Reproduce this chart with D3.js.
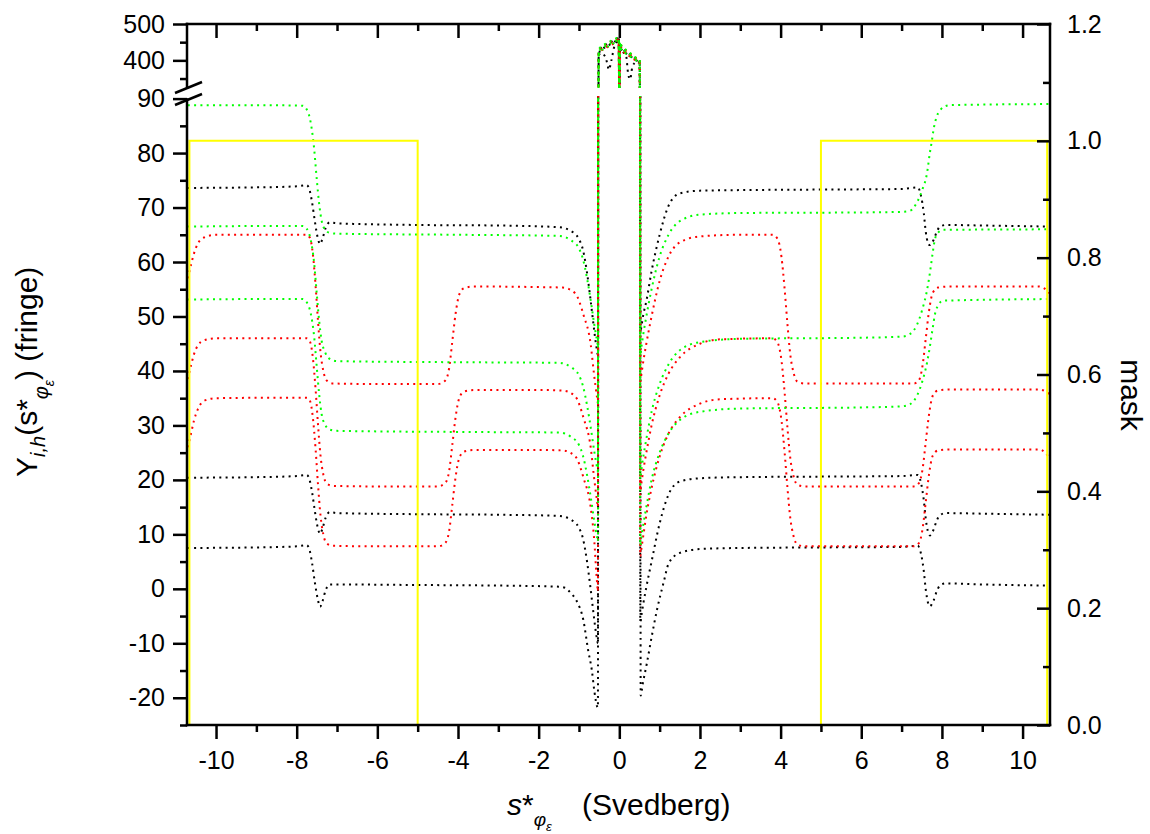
<!DOCTYPE html>
<html><head><meta charset="utf-8">
<script src="https://cdn.jsdelivr.net/npm/d3@7"></script>
<style>
body{margin:0;background:#fff}
svg{display:block}
text{font-family:"Liberation Sans",Arial,sans-serif;fill:#000}
</style>
</head><body>
<svg id="chart" width="1150" height="834"></svg>
<script>
// ---------------- data ----------------
const xTicks = [-10,-8,-6,-4,-2,0,2,4,6,8,10];
const xMinor = [-11,-9,-7,-5,-3,-1,1,3,5,7,9,11];
const yLowTicks = [-20,-10,0,10,20,30,40,50,60,70,80,90];
const yLowMinor = [-25,-15,-5,5,15,25,35,45,55,65,75,85];
const yHighTicks = [400,500];
const yHighMinor = [350,450];
const maskTicks = [0,0.2,0.4,0.6,0.8,1.0,1.2];
const maskMinor = [0.1,0.3,0.5,0.7,0.9,1.1];

const maskX = [-10.66,-10.66,-5,-5,5,5,10.61,10.61];
const maskY = [0,1,1,0,0,1,1,0];

const black1 = [[-10.7,73.6],[-9,73.7],[-8,73.9],[-7.75,74.1],[-7.68,73.2],[-7.62,71],[-7.55,67.5],[-7.48,64.5],[-7.42,63.3],[-7.36,64.3],[-7.28,66.3],[-7.18,67.3],[-7,67.1],[-5,66.8],[-3,66.7],[-1.5,66.4],[-1.2,65.7],[-1,64.2],[-0.9,62.2],[-0.8,58],[-0.72,53.5],[-0.64,48.5],[-0.57,44.5],[-0.53,43],
 [-0.51,424],[-0.47,432],[-0.4,439],[-0.3,445],[-0.2,451],[-0.12,456],[-0.05,461],[-0.015,466],[0,250],[0.015,450],[0.05,437],[0.12,428],[0.22,420],[0.32,412],[0.42,404],[0.505,398],
 [0.52,47],[0.55,48.3],[0.6,50.5],[0.67,52.8],[0.8,58.3],[1,65],[1.22,70.3],[1.5,72.6],[2,73.1],[3,73.2],[5,73.3],[7,73.4],[7.4,73.7],[7.48,72.2],[7.55,69],[7.6,65.5],[7.65,63.6],[7.7,63.1],[7.79,64],[7.87,65.5],[7.95,66.5],[8.1,66.8],[9,66.7],[10.7,66.5]];
const black2 = [[-10.7,20.4],[-9,20.5],[-8,20.7],[-7.75,20.9],[-7.68,20],[-7.62,17.8],[-7.55,14.3],[-7.48,11.3],[-7.42,10.1],[-7.36,11.1],[-7.28,13.1],[-7.18,14.1],[-7,13.9],[-5,13.7],[-3,13.6],[-1.5,13.4],[-1.2,12.7],[-1,11.2],[-0.9,9.2],[-0.8,5],[-0.72,0.5],[-0.64,-4.5],[-0.57,-8.5],[-0.53,-10],
 [-0.51,414],[-0.45,420],[-0.36,412],[-0.3,392],[-0.26,374],[-0.2,398],[-0.12,440],[-0.05,452],[-0.015,458],[0,250],[0.015,442],[0.08,425],[0.17,412],[0.22,362],[0.27,348],[0.32,380],[0.42,396],[0.505,392],
 [0.52,-6],[0.55,-4.8],[0.6,-2.5],[0.67,0.3],[0.8,5],[1,12],[1.22,17.3],[1.5,19.7],[2,20.3],[3,20.5],[5,20.6],[7,20.7],[7.4,20.9],[7.48,19.5],[7.55,16.3],[7.6,12.8],[7.65,10.6],[7.7,9.8],[7.79,10.8],[7.87,12.5],[7.95,13.5],[8.1,13.9],[9,13.8],[10.7,13.6]];
const black3 = [[-10.7,7.5],[-9,7.6],[-8,7.8],[-7.75,8],[-7.68,7.1],[-7.62,4.8],[-7.55,1.2],[-7.48,-1.8],[-7.42,-3.3],[-7.36,-2.3],[-7.28,-0.2],[-7.18,0.8],[-7,0.8],[-5,0.7],[-3,0.6],[-1.5,0.4],[-1.35,0.2],[-1.2,-0.8],[-1.06,-2.2],[-0.89,-5.8],[-0.77,-11.4],[-0.68,-15],[-0.62,-18.7],[-0.55,-21.6],[-0.53,-21.8],
 [-0.51,418],[-0.47,426],[-0.4,433],[-0.3,439],[-0.2,446],[-0.12,451],[-0.05,457],[-0.015,461],[0,250],[0.015,444],[0.05,431],[0.12,423],[0.22,416],[0.32,408],[0.42,400],[0.505,395],
 [0.53,-19.6],[0.58,-17.5],[0.68,-13.8],[0.8,-8.9],[0.93,-4],[1.11,1.5],[1.22,4.6],[1.5,6.6],[2,7.3],[3,7.5],[5,7.6],[7,7.7],[7.4,7.9],[7.48,6.5],[7.55,3.3],[7.6,-0.2],[7.65,-2.4],[7.7,-3.2],[7.79,-2.2],[7.87,-0.5],[7.95,0.6],[8.1,1],[9,0.8],[10.7,0.6]];

const red1 = [[-10.7,57],[-10.62,59.5],[-10.55,61.5],[-10.45,63.4],[-10.3,64.5],[-10,65],[-8,65],[-7.75,65],[-7.67,64.4],[-7.6,61.5],[-7.53,55.5],[-7.47,49],[-7.41,43.5],[-7.34,40],[-7.25,38.2],[-7.1,37.7],[-6,37.6],[-4.5,37.6],[-4.32,38.2],[-4.22,40.5],[-4.14,45.5],[-4.06,50.5],[-3.97,54],[-3.85,55.2],[-3.6,55.5],[-2,55.4],[-1.4,55.3],[-1.1,54.3],[-0.88,50.1],[-0.71,44.9],[-0.63,39.6],[-0.55,35],[-0.53,34],
 [-0.51,427],[-0.47,434],[-0.4,440],[-0.3,446],[-0.2,452],[-0.12,457],[-0.05,459],[-0.015,456],[0,250],[0.015,446],[0.05,440],[0.12,432],[0.22,423],[0.32,415],[0.42,406],[0.505,400],
 [0.52,38],[0.55,39.5],[0.6,42],[0.67,45],[0.8,50],[1,56.5],[1.22,61],[1.5,63.6],[2,64.7],[3,65],[3.8,65],[3.92,64.3],[4.02,61],[4.1,55],[4.17,48.5],[4.24,43],[4.32,39.7],[4.42,38],[4.6,37.7],[7.3,37.7],[7.43,38.3],[7.52,41],[7.6,46],[7.68,51],[7.77,54.3],[7.9,55.3],[8.2,55.5],[10.4,55.5],[10.55,55.1],[10.7,54]];
const red2 = [[-10.7,38.5],[-10.62,41],[-10.55,43],[-10.45,44.7],[-10.3,45.6],[-10,46],[-8,46],[-7.75,46],[-7.67,45.4],[-7.6,42.5],[-7.53,36.5],[-7.47,30],[-7.41,24.5],[-7.34,21],[-7.25,19.3],[-7.1,18.9],[-6,18.8],[-4.5,18.8],[-4.32,19.4],[-4.22,21.6],[-4.14,26.5],[-4.06,31.5],[-3.97,35],[-3.85,36.2],[-3.6,36.5],[-2,36.5],[-1.4,36.4],[-1.1,35.4],[-0.88,31.2],[-0.71,26],[-0.63,20.7],[-0.55,16],[-0.53,15],
 [-0.51,420],[-0.47,428],[-0.4,434],[-0.3,438],[-0.2,442],[-0.12,447],[-0.05,450],[-0.015,452],[0,250],[0.015,440],[0.05,433],[0.12,426],[0.22,419],[0.32,411],[0.42,403],[0.505,397],
 [0.52,18],[0.55,19.5],[0.6,22],[0.67,25],[0.8,30],[1,35.5],[1.22,39.5],[1.5,42.5],[2,45],[2.5,45.8],[3.8,46],[3.92,45.3],[4.02,42],[4.1,36],[4.17,29.5],[4.24,24],[4.32,20.7],[4.42,19.1],[4.6,18.8],[7.3,18.8],[7.43,19.4],[7.52,22],[7.6,27],[7.68,32],[7.77,35.4],[7.9,36.4],[8.2,36.6],[10.4,36.6],[10.55,36.3],[10.7,35.5]];
const red3 = [[-10.7,26],[-10.62,28.5],[-10.55,30.8],[-10.45,33],[-10.3,34.5],[-10,35],[-8,35.1],[-7.75,35.1],[-7.67,34.5],[-7.6,31.5],[-7.53,25.5],[-7.47,19],[-7.41,13.5],[-7.34,10],[-7.25,8.3],[-7.1,7.9],[-6,7.8],[-4.5,7.8],[-4.32,8.4],[-4.22,10.6],[-4.14,15.5],[-4.06,20.5],[-3.97,24],[-3.85,25.2],[-3.6,25.5],[-2,25.5],[-1.4,25.4],[-1.1,24.4],[-0.88,20.2],[-0.71,15],[-0.63,9.7],[-0.55,1],[-0.53,-0.5],
 [-0.51,416],[-0.47,424],[-0.4,430],[-0.3,436],[-0.2,444],[-0.12,449],[-0.05,454],[-0.015,457],[0,250],[0.015,437],[0.05,428],[0.12,421],[0.22,414],[0.32,406],[0.42,399],[0.505,394],
 [0.52,6],[0.55,7.5],[0.6,10],[0.67,13.5],[0.8,18.5],[1,24.3],[1.22,28.5],[1.5,31.5],[2,34],[2.5,34.8],[3.8,35],[3.92,34.3],[4.02,31],[4.1,25],[4.17,18.5],[4.24,13],[4.32,9.7],[4.42,8.1],[4.6,7.8],[7.3,7.8],[7.43,8.4],[7.52,11],[7.6,16],[7.68,21],[7.77,24.4],[7.9,25.4],[8.2,25.6],[10.4,25.6],[10.55,25.1],[10.7,23.5]];

const green1 = [[-10.7,88.8],[-9,88.8],[-7.85,88.7],[-7.75,88],[-7.65,85.5],[-7.57,81],[-7.5,75],[-7.44,70.5],[-7.38,67.5],[-7.3,66],[-7.2,65.4],[-7,65.2],[-4,65],[-1.5,64.8],[-1.2,64],[-1,62.5],[-0.9,60.5],[-0.8,57],[-0.7,52.5],[-0.62,48.5],[-0.55,45.5],[-0.53,44.8],
 [-0.51,429],[-0.47,436],[-0.4,442],[-0.3,448],[-0.2,454],[-0.12,458],[-0.05,462],[-0.015,463],[0,250],[0.015,452],[0.05,442],[0.12,433],[0.22,425],[0.32,416],[0.42,407],[0.505,401],
 [0.52,43],[0.55,44.5],[0.6,47],[0.67,50],[0.8,55],[1,61],[1.22,65],[1.5,67.5],[2,68.7],[3,69],[6,69.1],[7,69.2],[7.21,69.4],[7.37,70.8],[7.51,73.2],[7.63,76.3],[7.7,80],[7.75,82.2],[7.79,84.2],[7.87,86.7],[7.95,87.8],[8.03,88.4],[8.2,88.8],[10.7,89]];
const green2 = [[-10.7,66.5],[-9,66.6],[-7.85,66.6],[-7.75,66.1],[-7.65,64],[-7.57,60],[-7.5,54],[-7.44,49],[-7.38,45.5],[-7.3,43.5],[-7.2,42.3],[-7,41.8],[-4,41.6],[-1.5,41.5],[-1.2,40.7],[-1,39.2],[-0.9,37.2],[-0.8,33.7],[-0.7,29.2],[-0.62,25.2],[-0.55,22.2],[-0.53,21.5],
 [-0.51,422],[-0.47,430],[-0.4,436],[-0.3,442],[-0.2,448],[-0.12,452],[-0.05,455],[-0.015,458],[0,250],[0.015,444],[0.05,436],[0.12,427],[0.22,420],[0.32,412],[0.42,404],[0.505,398],
 [0.52,20.5],[0.55,22],[0.6,24.5],[0.67,27.5],[0.8,32.5],[1,37.6],[1.22,41.2],[1.5,43.8],[2,45.3],[3,45.9],[6,46.1],[7,46.3],[7.21,46.8],[7.37,48.3],[7.51,51.2],[7.63,54.8],[7.7,57.9],[7.77,61.6],[7.83,64.3],[7.92,65.5],[8.03,65.9],[10.7,66]];
const green3 = [[-10.7,53.1],[-9,53.2],[-7.85,53.2],[-7.75,52.6],[-7.65,50.5],[-7.57,46.5],[-7.5,40.5],[-7.44,35.5],[-7.38,32],[-7.3,30.2],[-7.2,29.3],[-7,29],[-4,28.8],[-1.5,28.7],[-1.2,27.9],[-1,26.4],[-0.9,24.4],[-0.8,20.9],[-0.7,16.4],[-0.62,12.4],[-0.55,9.4],[-0.53,8.7],
 [-0.51,417],[-0.47,425],[-0.4,431],[-0.3,437],[-0.2,443],[-0.12,448],[-0.05,452],[-0.015,454],[0,250],[0.015,438],[0.05,430],[0.12,422],[0.22,415],[0.32,407],[0.42,400],[0.505,393],
 [0.52,8],[0.55,9.5],[0.6,12],[0.67,15],[0.8,20],[1,25],[1.22,28.5],[1.5,31],[2,32.5],[3,33.1],[6,33.3],[7,33.5],[7.21,33.9],[7.37,35.3],[7.51,38],[7.63,41.5],[7.7,44.4],[7.77,47.8],[7.83,50.5],[7.92,52.2],[8.03,52.9],[10.7,53.2]];

const seriesData = [black1,black2,black3,red1,red2,red3,green1,green2,green3];
const seriesColor = ["#000000","#000000","#000000","#ff0000","#ff0000","#ff0000","#00ff00","#00ff00","#00ff00"];

// ---------------- layout ----------------
const L=187, R=1050, T=24, B=725;
const loTop=98.6, hiBot=88;
const svg=d3.select("#chart");
const x=d3.scaleLinear().domain([-10.72,10.68]).range([L,R]);
const yLo=d3.scaleLinear().domain([-25,90]).range([B,loTop]);
const yHi=d3.scaleLinear().domain([324,500]).range([hiBot,T]);
const yM=d3.scaleLinear().domain([0,1.2]).range([B,T]);

const defs=svg.append("defs");
defs.append("clipPath").attr("id","clipLo").append("rect").attr("x",L).attr("y",96).attr("width",R-L).attr("height",B-96);
defs.append("clipPath").attr("id","clipHi").append("rect").attr("x",L).attr("y",T).attr("width",R-L).attr("height",hiBot-T);

const gLo=svg.append("g").attr("clip-path","url(#clipLo)");
const gHi=svg.append("g").attr("clip-path","url(#clipHi)");

const lineLo=d3.line().x(d=>x(d[0])).y(d=>yLo(d[1])).curve(d3.curveMonotoneX);
const lineHi=d3.line().x(d=>x(d[0])).y(d=>yHi(d[1])).curve(d3.curveMonotoneX);

seriesData.forEach((s,i)=>{
  [[gLo,lineLo],[gHi,lineHi]].forEach(([g,ln])=>{
    g.append("path").attr("d",ln(s)).attr("fill","none")
     .attr("stroke",seriesColor[i]).attr("stroke-width",2)
     .attr("stroke-dasharray","2,4.3");
  });
});

// mask
const maskPts=maskX.map((v,i)=>[v,maskY[i]]);
svg.append("path").attr("d",d3.line().x(d=>x(d[0])).y(d=>yM(d[1]))(maskPts))
  .attr("fill","none").attr("stroke","#ffff00").attr("stroke-width",2);

// ---------------- axes ----------------
function styleAxis(g){
  g.select(".domain").remove();
  g.selectAll(".tick line").attr("stroke","#000").attr("stroke-width",2.5);
  g.selectAll(".tick text").attr("font-size",25).attr("font-family","Liberation Sans, Arial, sans-serif");
}
const fmt=d=>String(d);
// bottom
svg.append("g").attr("transform",`translate(0,${B})`)
  .call(d3.axisBottom(x).tickValues(xTicks).tickSize(14).tickPadding(12).tickFormat(fmt)).call(styleAxis);
svg.append("g").attr("transform",`translate(0,${B})`)
  .call(d3.axisBottom(x).tickValues(xMinor.filter(v=>x(v)>L&&x(v)<R)).tickSize(7).tickFormat("")).call(styleAxis);
// top (inward)
svg.append("g").attr("transform",`translate(0,${T})`)
  .call(d3.axisTop(x).tickValues(xTicks).tickSize(-14).tickFormat("")).call(styleAxis);
svg.append("g").attr("transform",`translate(0,${T})`)
  .call(d3.axisTop(x).tickValues(xMinor.filter(v=>x(v)>L&&x(v)<R)).tickSize(-7).tickFormat("")).call(styleAxis);
// left lower
svg.append("g").attr("transform",`translate(${L},0)`)
  .call(d3.axisLeft(yLo).tickValues(yLowTicks).tickSize(14).tickPadding(8).tickFormat(fmt)).call(styleAxis);
svg.append("g").attr("transform",`translate(${L},0)`)
  .call(d3.axisLeft(yLo).tickValues(yLowMinor).tickSize(7).tickFormat("")).call(styleAxis);
// left upper
svg.append("g").attr("transform",`translate(${L},0)`)
  .call(d3.axisLeft(yHi).tickValues(yHighTicks).tickSize(14).tickPadding(8).tickFormat(fmt)).call(styleAxis);
svg.append("g").attr("transform",`translate(${L},0)`)
  .call(d3.axisLeft(yHi).tickValues(yHighMinor).tickSize(7).tickFormat("")).call(styleAxis);
// right mask axis (ticks inward)
svg.append("g").attr("transform",`translate(${R},0)`)
  .call(d3.axisRight(yM).tickValues(maskTicks).tickSize(-13).tickPadding(17).tickFormat(d=>d.toFixed(1))).call(styleAxis);
svg.append("g").attr("transform",`translate(${R},0)`)
  .call(d3.axisRight(yM).tickValues(maskMinor).tickSize(-7).tickFormat("")).call(styleAxis);

// axis lines
const frame=svg.append("g").attr("stroke","#000").attr("stroke-width",2.5).attr("stroke-linecap","square").attr("fill","none");
frame.append("line").attr("x1",L).attr("y1",B).attr("x2",R).attr("y2",B);
frame.append("line").attr("x1",L).attr("y1",T).attr("x2",R).attr("y2",T);
frame.append("line").attr("x1",R).attr("y1",T).attr("x2",R).attr("y2",B);
frame.append("line").attr("x1",L).attr("y1",T).attr("x2",L).attr("y2",87.5);
frame.append("line").attr("x1",L).attr("y1",99.5).attr("x2",L).attr("y2",B);
// break marks
frame.append("line").attr("x1",175).attr("y1",93).attr("x2",202).attr("y2",82).attr("stroke-linecap","butt");
frame.append("line").attr("x1",175).attr("y1",105).attr("x2",202).attr("y2",94).attr("stroke-linecap","butt");

// ---------------- titles ----------------
const bt=svg.append("text").attr("font-size",30).attr("x",507).attr("y",815);
bt.append("tspan").attr("font-style","italic").text("s");
bt.append("tspan").text("*");
bt.append("tspan").attr("font-style","italic").attr("font-size",19).attr("dy",11).text("φ");
bt.append("tspan").attr("font-style","italic").attr("font-size",13).attr("dy",5).text("ε");
bt.append("tspan").attr("x",582).attr("dy",-16).text("(Svedberg)");

const lt=svg.append("text").attr("font-size",30).attr("transform","translate(37,477) rotate(-90)");
lt.append("tspan").text("Y");
lt.append("tspan").attr("font-style","italic").attr("font-size",20).attr("dy",8).text("i,h");
lt.append("tspan").attr("dy",-8).text("(s*");
lt.append("tspan").attr("font-style","italic").attr("font-size",20).attr("dy",11).text("φ");
lt.append("tspan").attr("font-style","italic").attr("font-size",14).attr("dy",6).text("ε");
lt.append("tspan").attr("dy",-17).text(") (fringe)");

svg.append("text").attr("font-size",30).attr("text-anchor","middle")
  .attr("transform","translate(1121,395) rotate(90)").text("mask");
</script>
</body></html>
